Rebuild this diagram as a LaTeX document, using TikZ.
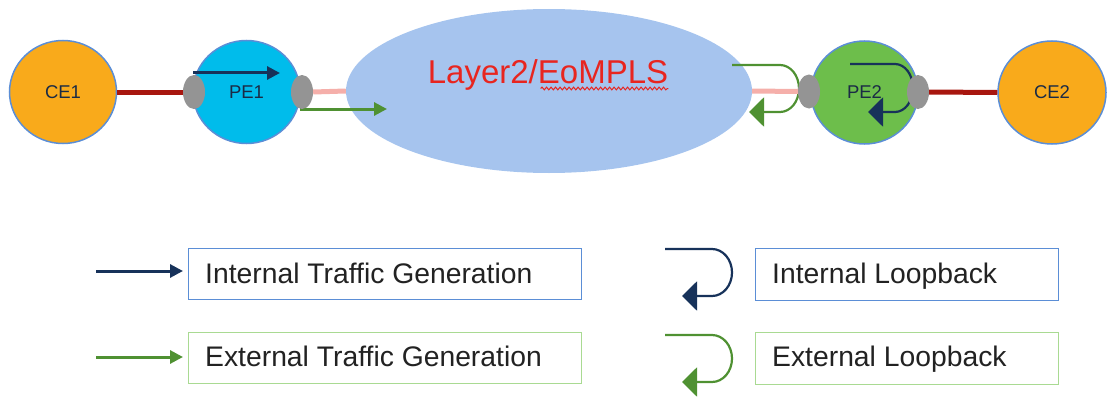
\documentclass[tikz,border=0pt]{standalone}
\usepackage{fontspec}
\setmainfont{Liberation Sans}
\usetikzlibrary{arrows.meta,shapes.geometric,decorations.pathmorphing}
\definecolor{ceorange}{HTML}{F9AA1B}
\definecolor{cborder}{HTML}{5B8ED6}
\definecolor{peblue}{HTML}{00BCEB}
\definecolor{pegreen}{HTML}{6DBE4B}
\definecolor{portgray}{HTML}{949494}
\definecolor{cloud}{HTML}{A6C4EE}
\definecolor{redline}{HTML}{A8160F}
\definecolor{pinkline}{HTML}{F5AFAA}
\definecolor{navy}{HTML}{17325A}
\definecolor{grn}{HTML}{4F9132}
\definecolor{txtred}{HTML}{E8251F}
\definecolor{legblue}{HTML}{5B8ED6}
\definecolor{leggreen}{HTML}{A9DA92}
\definecolor{textdark}{HTML}{222222}
\definecolor{nodetext}{HTML}{1B2B45}
\begin{document}
\begin{tikzpicture}[x=1pt,y=-1pt,
  circ/.style={ellipse, draw=cborder, line width=1.5pt, inner sep=0pt,
    minimum width=107pt, minimum height=103pt, text=nodetext,
    font=\fontsize{18.5}{18.5}\selectfont},
  port/.style={ellipse, fill=portgray, draw=none, inner sep=0pt,
    minimum width=22pt, minimum height=34pt},
  redlink/.style={draw=redline, line width=5pt},
  pinklink/.style={draw=pinkline, line width=5pt},
  navyarrow/.style={draw=navy, line width=3pt, -{Triangle[length=13pt,width=13pt]}},
  grnarrow/.style={draw=grn, line width=3pt, -{Triangle[length=13pt,width=13pt]}},
  navyloop/.style={draw=navy, line width=2.2pt, -{Triangle[length=15pt,width=29pt]}},
  grnloop/.style={draw=grn, line width=2.2pt, -{Triangle[length=15pt,width=29pt]}},
  legbox/.style={draw=#1, line width=1.3pt, fill=white, minimum width=393pt,
    minimum height=51pt, inner sep=0pt, anchor=north west},
  loopbox/.style={draw=#1, line width=1.3pt, fill=white, minimum width=303pt,
    minimum height=52pt, inner sep=0pt, anchor=north west},
  legtext/.style={text=textdark, font=\fontsize{28.3}{28.3}\selectfont, inner sep=0pt, anchor=base west}
]
\useasboundingbox (0,0) rectangle (1116,412);

% main nodes
\node[circ, fill=ceorange] (ce1) at (63,92) {CE1};
\node[circ, fill=peblue] (pe1) at (246.5,92) {PE1};
\node[ellipse, fill=cloud, draw=none, minimum width=406pt, minimum height=164pt, inner sep=0pt] (cloud) at (549,91) {};
\node[circ, fill=pegreen] (pe2) at (864.5,92.5) {PE2};
\node[circ, fill=ceorange, minimum width=108pt] (ce2) at (1052,92.5) {CE2};

\node[text=txtred, font=\fontsize{33}{33}\selectfont, inner sep=0pt, anchor=base] (lbl) at (548,83) {Layer2/EoMPLS};
\draw[txtred, line width=1pt, decorate, decoration={snake, amplitude=1.4pt, segment length=4.5pt}]
  ([xshift=113pt,yshift=-5.5pt]lbl.base west) -- ([yshift=-5.5pt]lbl.base east);

% traffic arrows in the diagram
\coordinate (g1s) at (193,73);
\coordinate (g1e) at (280,73);
\draw[navyarrow] (g1s) -- (g1e);
\coordinate (g2s) at (300,109);
\coordinate (g2e) at (387,109);
\draw[grnarrow] (g2s) -- (g2e);

\coordinate (lg1s) at (732,65);
\coordinate (lg1e) at (749,112);
\draw[grnloop] (lg1s) -- ++(48,0) arc[start angle=90, end angle=-90, x radius=19pt, y radius=23.5pt] -- (lg1e);
\coordinate (ln1s) at (850,64);
\coordinate (ln1e) at (868,112);
\draw[navyloop] (ln1s) -- ++(45,0) arc[start angle=90, end angle=-90, x radius=18pt, y radius=24pt] -- (ln1e);

% ports
\node[port] (p1a) at (194,92) {};
\node[port] (p1b) at (302,92) {};
\node[port] (p2a) at (809,91.5) {};
\node[port] (p2b) at (918,92) {};

% links
\draw[redlink] (ce1.east) -- (p1a.west);
\draw[pinklink] (p1b.east) -- (cloud.west);
\draw[pinklink] (cloud.east) -- (p2a.west);
\draw[redlink] (p2b.east) -- (ce2.west);

% legend
\node[legbox=legblue] (b1) at (188,248) {};
\node[legtext] (t1) at (205,283) {Internal Traffic Generation};
\node[legbox=leggreen] (b2) at (188,331.5) {};
\node[legtext] (t2) at (205,366.5) {External Traffic Generation};
\node[loopbox=legblue] (b3) at (755,248) {};
\node[legtext] (t3) at (772,283) {Internal Loopback};
\node[loopbox=leggreen] (b4) at (755,331.5) {};
\node[legtext] (t4) at (772,366.5) {External Loopback};

\coordinate (a1s) at (96,271);
\draw[navyarrow, shorten >=5pt] (a1s) -- (b1.west |- a1s);
\coordinate (a2s) at (96,357);
\draw[grnarrow, shorten >=5pt] (a2s) -- (b2.west |- a2s);

\coordinate (l3s) at (665,249);
\coordinate (l3e) at (682,296);
\draw[navyloop] (l3s) -- ++(47,0) arc[start angle=90, end angle=-90, x radius=20pt, y radius=23.5pt] -- (l3e);
\coordinate (l4s) at (665,335);
\coordinate (l4e) at (682,382);
\draw[grnloop] (l4s) -- ++(47,0) arc[start angle=90, end angle=-90, x radius=20pt, y radius=23.5pt] -- (l4e);
\end{tikzpicture}
\end{document}
